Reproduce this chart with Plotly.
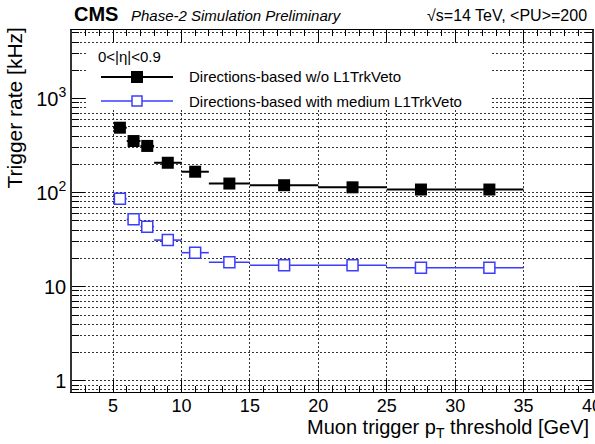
import plotly.graph_objects as go

# Threshold bins [GeV] and measured L1 rates [kHz]
bin_edges = [5, 6, 7, 8, 10, 12, 15, 20, 25, 30, 35]
rate_no_veto = [491, 354, 314, 208, 167, 125, 120, 114, 108, 108]
rate_medium_veto = [86, 52, 43.5, 31.3, 23.0, 18.2, 16.9, 16.9, 15.9, 15.9]

x_ticks = [5, 10, 15, 20, 25, 30, 35, 40]
y_major = [1, 10, 100, 1000]
y_major_text = ["1", "10", "10<sup>2</sup>", "10<sup>3</sup>"]

centers = [(a + b) / 2 for a, b in zip(bin_edges[:-1], bin_edges[1:])]
half_w = [(b - a) / 2 for a, b in zip(bin_edges[:-1], bin_edges[1:])]

BLUE = "#3c3cff"
GRID = "#333"
FONT = "Liberation Sans, Arial, Helvetica, sans-serif"

W, H = 595, 444
L, R, T, B = 72, 3, 30, 52

fig = go.Figure()

fig.add_trace(go.Scatter(
    x=centers, y=rate_no_veto, mode="markers",
    marker=dict(symbol="square", size=12, color="black"),
    error_x=dict(type="data", array=half_w, symmetric=True, width=0,
                 thickness=2, color="black"),
    showlegend=False,
))
fig.add_trace(go.Scatter(
    x=centers, y=rate_medium_veto, mode="markers",
    marker=dict(symbol="square", size=11, color="white",
                line=dict(color=BLUE, width=1.5)),
    error_x=dict(type="data", array=half_w, symmetric=True, width=0,
                 thickness=1.6, color=BLUE),
    showlegend=False,
))

minor_y = [m * 10 ** e for e in range(-1, 4) for m in range(2, 10)]

fig.update_xaxes(
    range=[2, 40], showline=True, linecolor="black", linewidth=1,
    mirror="allticks", ticks="inside", ticklen=12, tickcolor="black",
    tickmode="array", tickvals=x_ticks, ticklabeloverflow="allow",
    ticklabelstandoff=-3,
    tickfont=dict(family=FONT, size=18, color="black"),
    showgrid=True, gridcolor=GRID, griddash="2px,2px", gridwidth=1,
    minor=dict(dtick=1, tick0=0, ticks="inside", ticklen=6,
               tickcolor="black", showgrid=False),
    zeroline=False,
)
fig.update_yaxes(
    type="log", range=[-0.12, 3.73], showline=True, linecolor="#333",
    linewidth=1.5, mirror="allticks", ticks="inside", ticklen=13,
    tickcolor="black", tickmode="array", tickvals=y_major,
    ticktext=y_major_text,
    tickfont=dict(family=FONT, size=20, color="black"),
    showgrid=True, gridcolor=GRID, griddash="2px,2px", gridwidth=1,
    minor=dict(tickmode="array", tickvals=minor_y, ticks="inside",
               ticklen=7, tickcolor="black", showgrid=True,
               gridcolor=GRID, griddash="2px,2px", gridwidth=1),
    zeroline=False,
)

pw, ph = W - L - R, H - T - B


def px(xp):
    return (xp - L) / pw


def py(yp):
    return (H - B - yp) / ph


ann = []
# Header
ann.append(dict(text="<b>CMS</b>", x=px(72), y=py(14), xanchor="left",
                yanchor="middle", font=dict(size=20, family=FONT)))
ann.append(dict(text="<i>Phase-2 Simulation Preliminary</i>", x=px(129),
                y=py(15), xanchor="left", yanchor="middle",
                font=dict(size=15, family=FONT)))
ann.append(dict(text="√s=14 TeV, &lt;PU&gt;=200", x=px(589), y=py(15),
                xanchor="right", yanchor="middle",
                font=dict(size=16, family=FONT)))
# Axis titles
ann.append(dict(text="Muon trigger p<sub>T</sub> threshold [GeV]",
                x=px(591), y=py(428), xanchor="right", yanchor="middle",
                font=dict(size=20, family=FONT)))
ann.append(dict(text="Trigger rate [kHz]", x=px(14), y=py(26),
                xanchor="center", yanchor="top", textangle=-90,
                font=dict(size=21, family=FONT)))
# Legend
ann.append(dict(text="0&lt;|η|&lt;0.9", x=px(96), y=py(56), xanchor="left",
                yanchor="middle", font=dict(size=15, family=FONT)))
ann.append(dict(text="Directions-based w/o L1TrkVeto", x=px(187),
                y=py(77), xanchor="left", yanchor="middle",
                font=dict(size=15, family=FONT)))
ann.append(dict(text="Directions-based with medium L1TrkVeto", x=px(187),
                y=py(101), xanchor="left", yanchor="middle",
                font=dict(size=15, family=FONT)))
for a in ann:
    a.update(xref="paper", yref="paper", showarrow=False)
    a.setdefault("font", {})["color"] = "black"

shapes = [
    # white legend box hiding the grid behind the entries
    dict(type="rect", xref="paper", yref="paper", layer="above",
         x0=px(88), x1=px(490), y0=py(110), y1=py(43),
         fillcolor="white", line=dict(width=0)),
    dict(type="line", xref="paper", yref="paper", x0=px(101), x1=px(173),
         y0=py(77), y1=py(77), line=dict(color="black", width=2)),
    dict(type="rect", xref="paper", yref="paper", xsizemode="pixel",
         ysizemode="pixel", xanchor=px(137), yanchor=py(77), x0=-6, x1=6,
         y0=-6, y1=6, fillcolor="black", line=dict(color="black", width=0)),
    dict(type="line", xref="paper", yref="paper", x0=px(101), x1=px(173),
         y0=py(101), y1=py(101), line=dict(color=BLUE, width=1.5)),
    dict(type="rect", xref="paper", yref="paper", xsizemode="pixel",
         ysizemode="pixel", xanchor=px(137), yanchor=py(101), x0=-5, x1=5,
         y0=-5, y1=5, fillcolor="white", line=dict(color=BLUE, width=1.5)),
]

fig.update_layout(
    width=W, height=H, margin=dict(l=L, r=R, t=T, b=B, autoexpand=False),
    paper_bgcolor="white", plot_bgcolor="white",
    annotations=ann, shapes=shapes, showlegend=False,
    font=dict(family=FONT, color="black"),
)

fig.write_html("out.html")
